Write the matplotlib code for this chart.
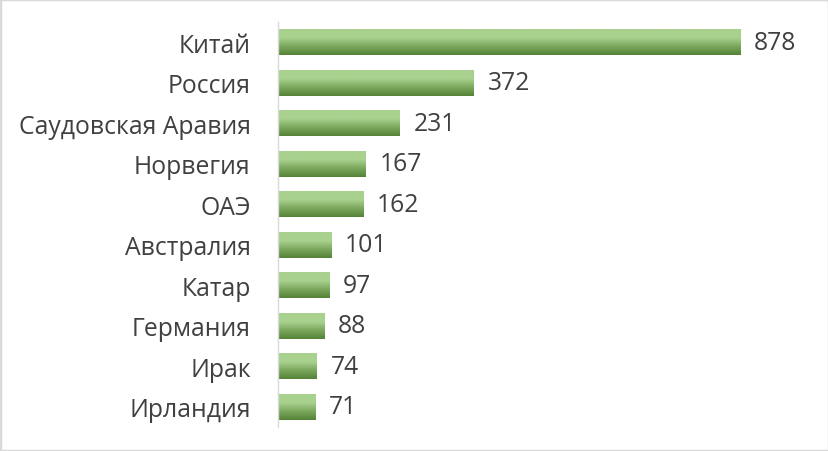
import matplotlib
matplotlib.use('Agg')
import matplotlib.pyplot as plt
import numpy as np
from matplotlib.colors import LinearSegmentedColormap
from matplotlib.patches import Rectangle

countries = ['Китай', 'Россия', 'Саудовская Аравия', 'Норвегия', 'ОАЭ',
             'Австралия', 'Катар', 'Германия', 'Ирак', 'Ирландия']
values = [878, 372, 231, 167, 162, 101, 97, 88, 74, 71]

plt.rcParams['font.family'] = ['Open Sans', 'DejaVu Sans']
text_color = '#404040'

fig = plt.figure(figsize=(8.29, 4.52), dpi=100)
ax = fig.add_axes([278.5 / 829, 1 - 428 / 452, 526.8 / 829, 405 / 452])

pos = np.arange(len(countries))
bars = ax.barh(pos, values, height=0.64, color='none', edgecolor='none')

# light on top, dark at the bottom
cmap = LinearSegmentedColormap.from_list('g', ['#a9d18e', '#a9d18e', '#7aa75c', '#548235'])
grad = np.linspace(0, 1, 256).reshape(-1, 1)
for b in bars:
    x0, y0, w, h = b.get_x(), b.get_y(), b.get_width(), b.get_height()
    ax.imshow(grad, cmap=cmap, aspect='auto', origin='upper',
              extent=(x0, x0 + w, y0 + h, y0), interpolation='bilinear', zorder=2)

for p, v in zip(pos, values):
    ax.text(v + 25, p, str(v), va='center', ha='left', fontsize=17.8, color=text_color)

ax.set_xlim(0, 1000)
ax.set_ylim(len(countries) - 0.5, -0.5)
ax.set_yticks(pos)
ax.set_yticklabels(countries, fontsize=17.8, color=text_color)
ax.tick_params(axis='y', length=0, pad=20)
ax.set_xticks([])
for s in ['top', 'right', 'bottom']:
    ax.spines[s].set_visible(False)
ax.spines['left'].set_color('#d9d9d9')
ax.spines['left'].set_linewidth(1)

fig.patches.append(Rectangle((0, 0), 1, 1, transform=fig.transFigure, fill=False,
                             edgecolor='#d9d9d9', linewidth=2.5))

fig.savefig('out.png', dpi=100)
